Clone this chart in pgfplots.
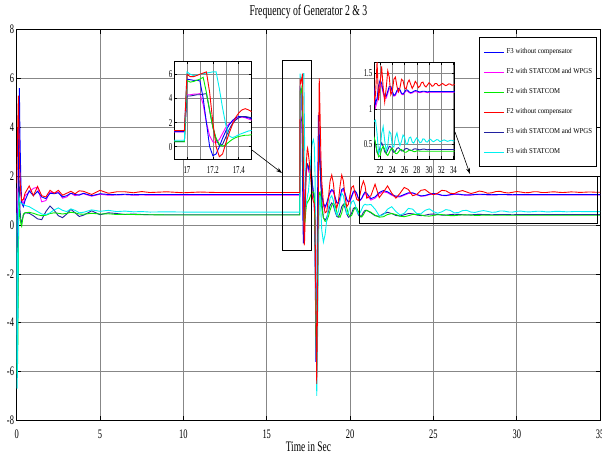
\documentclass[border=0pt]{standalone}
\usepackage{pgfplots}
\pgfplotsset{compat=1.18}
\usepackage{pgfplotstable}
\usepackage{fontspec}
\setmainfont{Liberation Serif}[FakeStretch=0.65]
\newfontfamily\legfont{Liberation Serif}[FakeStretch=0.9]
\usetikzlibrary{arrows.meta}

\definecolor{cB}{RGB}{0,0,255}
\definecolor{cM}{RGB}{255,0,255}
\definecolor{cG}{RGB}{0,235,0}
\definecolor{cR}{RGB}{255,0,0}
\definecolor{cN}{RGB}{32,32,160}
\definecolor{cC}{RGB}{0,240,240}
\definecolor{gridc}{RGB}{135,135,135}

\pgfplotstableread{
t      R      B      M      N      G      C
0      1.7    1.0    1.5    0.5    0.4    0.5
0.03   2.5   -5.65  -4.5   -5.5   -6.1   -6.7
0.06   4.0   -3.0   -1.0   -3.5   -5.5   -4.5
0.1    5.3    1.5    3.5    0.5   -1.5    0.0
0.13   4.2    4.5    5.0    2.0    1.0    1.2
0.16   2.8    5.6    4.0    1.5    0.6    1.1
0.2    1.8    3.5    2.2    0.6    0.3    0.95
0.25   1.3    1.8    1.3    0.2    0.05   0.9
0.3    1.0    0.9    1.0    0.1   -0.05   0.88
0.4    1.05   0.75   0.85   0.4    0.45   0.85
0.5    1.3    1.0    1.2    0.5    0.5    0.8
0.75   1.6    1.4    1.35   0.48   0.52   0.75
1.0    1.2    1.2    1.5    0.38   0.48   0.65
1.25   1.58   1.38   1.55   0.25   0.42   0.55
1.5    1.2    1.15   0.95   0.22   0.38   0.45
1.75   1.15   1.08   1.0    0.55   0.4    0.42
2.0    1.42   1.3    1.35   0.78   0.47   0.5
2.25   1.3    1.28   1.3    0.6    0.5    0.62
2.5    1.42   1.32   1.35   0.38   0.48   0.7
2.75   1.22   1.15   1.1    0.3    0.45   0.6
3.0    1.3    1.2    1.15   0.45   0.48   0.55
3.25   1.38   1.3    1.3    0.64   0.52   0.66
3.5    1.28   1.25   1.2    0.5    0.5    0.6
3.75   1.4    1.22   1.25   0.35   0.45   0.5
4.0    1.38   1.3    1.28   0.4    0.44   0.52
4.5    1.25   1.2    1.18   0.58   0.48   0.62
5.0    1.42   1.28   1.26   0.42   0.45   0.56
5.5    1.3    1.25   1.22   0.5    0.46   0.6
6.0    1.36   1.24   1.23   0.47   0.43   0.55
6.5    1.36   1.26   1.24   0.43   0.44   0.57
7.0    1.32   1.24   1.22   0.45   0.43   0.54
7.5    1.37   1.25   1.23   0.43   0.42   0.55
8.0    1.33   1.25   1.22   0.42   0.42   0.53
9.0    1.36   1.25   1.22   0.42   0.41   0.54
10.0   1.32   1.25   1.22   0.42   0.41   0.53
11.0   1.35   1.25   1.22   0.42   0.41   0.53
12.0   1.33   1.25   1.22   0.42   0.41   0.53
16.98  1.33   1.25   1.22   0.42   0.41   0.53
17.0   6.0    5.6    4.3    4.2    5.5    6.2
17.025 5.8    5.55   4.3    4.2    5.35   6.0
17.05  5.8    5.5    4.35   4.25   5.4    5.9
17.075 5.9    5.5    4.35   4.3    5.5    5.95
17.1   6.0    5.45   4.4    4.3    5.6    6.0
17.125 6.1    4.0    3.5    4.35   5.75   6.05
17.15  6.2    2.0    2.0    4.4    4.5    6.1
17.175 4.5    0.0    0.9    3.0    3.0    6.15
17.2   2.0   -0.75   0.4    1.6    1.6    6.2
17.225 0.0   -0.6    0.35   0.6    0.7    6.2
17.25 -0.83   0.0    0.6    0.1    0.2    4.8
17.275 -0.6   0.7    1.1    0.2    0.05   3.2
17.3   0.3    1.3    1.6    0.8    0.15   1.8
17.325 1.1    1.8    1.9    1.4    0.4    0.9
17.35  1.8    2.15   2.1    1.9    0.6    0.75
17.375 2.4    2.4    2.3    2.2    0.75   0.85
17.4   2.8    2.5    2.4    2.4    0.85   1.0
17.425 3.05   2.5    2.45   2.5    0.9    1.1
17.45  3.15   2.45   2.4    2.5    0.95   1.2
17.475 3.05   2.4    2.3    2.45   0.95   1.3
17.5   2.9    2.3    2.2    2.4    1.0    1.35
17.55  2.6    2.4    2.3    2.4    1.05   1.8
17.6   2.2    2.45   2.3    2.35   1.15   2.3
17.65  1.8    2.3    2.15   2.2    1.25   2.8
17.7   1.4    2.0    1.9    1.95   1.3    3.2
17.75  1.1    1.6    1.55   1.6    1.35   3.4
17.8   0.95   1.3    1.25   1.3    1.35   3.5
17.85  0.9    1.1    1.05   1.1    1.3    3.3
17.9   0.2   -1.0   -0.3   -0.3   -0.5    2.0
17.95 -3.5   -5.6   -4.5   -4.0   -4.5   -2.5
18.0  -6.5   -3.5   -5.8   -5.4   -6.0   -7.0
18.05 -3.0    1.0   -2.0   -2.0   -2.5   -4.5
18.1   2.0    4.5    2.5    2.0    0.5   -1.0
18.15  6.0    3.8    3.7    3.2    1.3    0.8
18.2   4.5    2.5    3.0    2.6    1.35   1.2
18.25  2.8    1.6    2.0    1.8    1.1    0.6
18.3   1.8    1.2    1.3    1.0    0.7   -0.2
18.4   0.9    0.9    0.8    0.3    0.3   -0.7
18.5   0.5    0.75   0.7    0.2    0.15  -0.4
18.6   0.55   0.9    0.85   0.3    0.18   0.2
18.7   1.1    1.15   1.1    0.55   0.35   0.7
18.8   1.8    1.35   1.3    0.8    0.6    1.1
18.9   2.05   1.45   1.4    0.9    0.8    1.2
19.0   1.7    1.4    1.35   0.8    0.9    1.0
19.1   1.0    1.15   1.1    0.55   0.8    0.6
19.2   0.7    0.92   0.9    0.35   0.55   0.4
19.3   0.95   0.9    0.88   0.32   0.35   0.55
19.4   1.6    1.15   1.1    0.5    0.32   1.0
19.5   2.05   1.45   1.38   0.75   0.5    1.3
19.6   1.8    1.5    1.42   0.85   0.8    1.2
19.7   1.15   1.3    1.25   0.7    0.9    0.8
19.8   0.75   1.05   1.02   0.45   0.7    0.45
19.9   0.85   0.95   0.93   0.32   0.45   0.5
20.0   1.25   1.0    0.98   0.35   0.34   0.75
20.1   1.55   1.2    1.15   0.5    0.4    0.95
20.2   1.6    1.38   1.32   0.68   0.58   1.0
20.3   1.3    1.4    1.35   0.72   0.72   0.85
20.4   1.05   1.3    1.25   0.6    0.7    0.6
20.5   1.0    1.1    1.08   0.42   0.55   0.45
20.6   1.25   1.02   1.0    0.33   0.38   0.5
20.7   1.6    1.1    1.08   0.38   0.33   0.65
20.8   1.8    1.25   1.2    0.52   0.42   0.8
20.9   1.6    1.35   1.3    0.6    0.55   0.85
21.0   1.1    1.3    1.22   0.6    0.6    0.82
21.25  1.2    1.08   1.02   0.5    0.52   0.84
21.5   1.67   1.15   1.1    0.38   0.4    0.65
21.75  1.12   1.33   1.28   0.36   0.32   0.38
22.0   1.35   1.41   1.36   0.46   0.34   0.42
22.25  1.6    1.36   1.32   0.52   0.43   0.65
22.5   1.3    1.25   1.22   0.47   0.47   0.75
22.75  1.1    1.18   1.15   0.39   0.43   0.55
23.0   1.3    1.18   1.15   0.37   0.36   0.41
23.25  1.54   1.25   1.22   0.42   0.34   0.48
23.5   1.45   1.32   1.29   0.47   0.38   0.68
23.75  1.2    1.32   1.3    0.46   0.43   0.65
24.0   1.25   1.25   1.24   0.41   0.44   0.47
24.25  1.42   1.19   1.18   0.385  0.41   0.46
24.5   1.45   1.21   1.19   0.4    0.37   0.6
24.75  1.32   1.26   1.24   0.44   0.365  0.66
25.0   1.24   1.29   1.27   0.45   0.39   0.55
25.25  1.3    1.27   1.26   0.43   0.42   0.48
25.5   1.42   1.22   1.21   0.405  0.425  0.54
25.75  1.4    1.21   1.2    0.405  0.405  0.63
26.0   1.3    1.24   1.23   0.425  0.385  0.6
26.25  1.28   1.27   1.255  0.44   0.385  0.5
26.5   1.37   1.265  1.25   0.435  0.4    0.51
26.75  1.41   1.24   1.23   0.42   0.415  0.59
27.0   1.35   1.23   1.22   0.41   0.415  0.6
27.25  1.29   1.235  1.225  0.415  0.405  0.53
27.5   1.33   1.25   1.24   0.43   0.395  0.515
27.75  1.39   1.26   1.245  0.435  0.395  0.56
28.0   1.36   1.255  1.24   0.43   0.405  0.59
28.25  1.3    1.245  1.235  0.425  0.405  0.56
28.5   1.32   1.24   1.23   0.42   0.4    0.52
28.75  1.37   1.245  1.235  0.425  0.4    0.53
29.0   1.38   1.25   1.24   0.43   0.4    0.575
29.25  1.33   1.25   1.24   0.43   0.4    0.57
29.5   1.31   1.245  1.235  0.425  0.4    0.535
29.75  1.34   1.24   1.23   0.42   0.4    0.53
30.0   1.37   1.245  1.235  0.425  0.4    0.56
30.25  1.35   1.245  1.235  0.425  0.4    0.57
30.5   1.32   1.245  1.235  0.425  0.4    0.545
30.75  1.33   1.245  1.235  0.425  0.4    0.535
31.0   1.36   1.245  1.235  0.425  0.4    0.55
31.25  1.36   1.245  1.235  0.425  0.4    0.565
31.5   1.33   1.245  1.235  0.425  0.4    0.56
31.75  1.33   1.245  1.235  0.425  0.4    0.54
32.0   1.35   1.245  1.235  0.425  0.4    0.54
32.25  1.36   1.245  1.235  0.425  0.4    0.555
32.5   1.34   1.245  1.235  0.425  0.4    0.56
32.75  1.33   1.245  1.235  0.425  0.4    0.55
33.0   1.34   1.245  1.235  0.425  0.4    0.54
33.25  1.355  1.245  1.235  0.425  0.4    0.545
33.5   1.35   1.245  1.235  0.425  0.4    0.555
33.75  1.335  1.245  1.235  0.425  0.4    0.555
34.0   1.34   1.245  1.235  0.425  0.4    0.545
34.25  1.35   1.245  1.235  0.425  0.4    0.545
34.5   1.35   1.245  1.235  0.425  0.4    0.55
34.75  1.34   1.245  1.235  0.425  0.4    0.55
35.0   1.34   1.245  1.235  0.425  0.4    0.55
}\freqdata

\pgfplotsset{
  frstyle/.style={
    scale only axis, anchor=south west,
    /pgf/number format/assume math mode=true,
    tick align=inside,
    axis line style={line width=0.9pt},
    major tick style={line width=0.6pt, black},
    grid style={gridc, line width=0.6pt},
    every axis plot/.append style={line width=0.9pt},
  },
}

\newcommand{\drawseries}{%
  \addplot[cM, line width=0.9pt, forget plot] table[x=t,y=M]{\freqdata};
  \addplot[cB, line width=0.9pt, forget plot] table[x=t,y=B]{\freqdata};
  \addplot[cN, line width=0.9pt, forget plot] table[x=t,y=N]{\freqdata};
  \addplot[cG, line width=0.9pt, forget plot] table[x=t,y=G]{\freqdata};
  \addplot[cC, line width=0.9pt, forget plot] table[x=t,y=C]{\freqdata};
  \addplot[cR, line width=0.9pt, forget plot] table[x=t,y=R]{\freqdata};
}

\begin{document}
\begin{tikzpicture}
\useasboundingbox (0pt,0pt) rectangle (602pt,-453pt);

\begin{axis}[frstyle,
  at={(16.7pt,-420.4pt)}, width=583.4pt, height=390.8pt,
  xmin=0, xmax=35, ymin=-8, ymax=8,
  xtick={0,5,...,35}, ytick={-8,-6,...,8},
  grid=major, major tick length=4pt,
  ticklabel style={font=\fontsize{13}{13}\selectfont, inner sep=0pt},
  xticklabel style={anchor=north, yshift=-9.5pt},
  yticklabel style={anchor=east, xshift=-2.5pt},
  title={Frequency of Generator 2 \& 3},
  title style={font=\fontsize{15}{15}\selectfont, at={(0.5,1)}, anchor=base, yshift=8.1pt, inner sep=0pt},
  xlabel={Time in Sec},
  xlabel style={font=\fontsize{14.5}{14.5}\selectfont, at={(0.5,0)}, anchor=base, yshift=-30.8pt, inner sep=0pt},
  legend cell align=left,
  legend style={font=\legfont\fontsize{7.5}{8}\selectfont, draw=black, line width=0.9pt, fill=white,
    at={(0.793,0.98)}, anchor=north west, inner xsep=4pt, inner ysep=11pt,
    row sep=13.5pt, column sep=2pt,
    nodes={inner sep=0pt, text height=5pt, text depth=1.5pt}},
  legend image code/.code={\draw[#1] (0pt,0pt) -- (20pt,0pt);},
]
\drawseries
\addlegendimage{cB, line width=0.9pt}\addlegendentry{F3 without compensator}
\addlegendimage{cM, line width=0.9pt}\addlegendentry{F2 with STATCOM and WPGS}
\addlegendimage{cG, line width=0.9pt}\addlegendentry{F2 with STATCOM}
\addlegendimage{cR, line width=0.9pt}\addlegendentry{F2 without compensator}
\addlegendimage{cN, line width=0.9pt}\addlegendentry{F3 with STATCOM and WPGS}
\addlegendimage{cC, line width=0.9pt}\addlegendentry{F3 with STATCOM}
\draw[black, line width=0.8pt] (axis cs:15.96,-1.05) rectangle (axis cs:17.7,6.75);
\draw[black, line width=0.8pt] (axis cs:20.53,0.08) rectangle (axis cs:34.84,1.98);
\end{axis}

% inset 1
\begin{axis}[frstyle,
  at={(174pt,-159pt)}, width=77.7pt, height=98pt,
  xmin=16.9, xmax=17.5, ymin=-1.02, ymax=7.1,
  xtick={17,17.2,17.4}, minor xtick={17.1,17.3}, ytick={0,2,4,6},
  grid=both, minor grid style={gridc, line width=0.6pt},
  major tick length=2.5pt, minor tick length=2.5pt,
  axis background/.style={fill=white},
  ticklabel style={font=\fontsize{10.5}{10.5}\selectfont, inner sep=0pt},
  xticklabel style={anchor=north, yshift=-7.5pt},
  yticklabel style={anchor=east, xshift=-1.5pt},
]
\drawseries
\end{axis}

% inset 2
\begin{axis}[frstyle,
  at={(374pt,-159pt)}, width=80.7pt, height=96.7pt,
  xmin=21, xmax=34.2, ymin=0.29, ymax=1.66,
  xtick={22,24,...,34}, ytick={0.5,1,1.5},
  grid=major, major tick length=2.5pt,
  axis background/.style={fill=white},
  ticklabel style={font=\fontsize{10.5}{10.5}\selectfont, inner sep=0pt},
  xticklabel style={anchor=north, yshift=-7.5pt},
  yticklabel style={anchor=east, xshift=-1.5pt},
]
\drawseries
\end{axis}

\draw[-{Stealth[length=6pt,width=4pt]}, line width=0.6pt] (252pt,-150pt) -- (282pt,-173pt);
\draw[-{Stealth[length=6pt,width=4pt]}, line width=0.6pt] (455pt,-132pt) -- (470pt,-174pt);
\end{tikzpicture}
\end{document}
